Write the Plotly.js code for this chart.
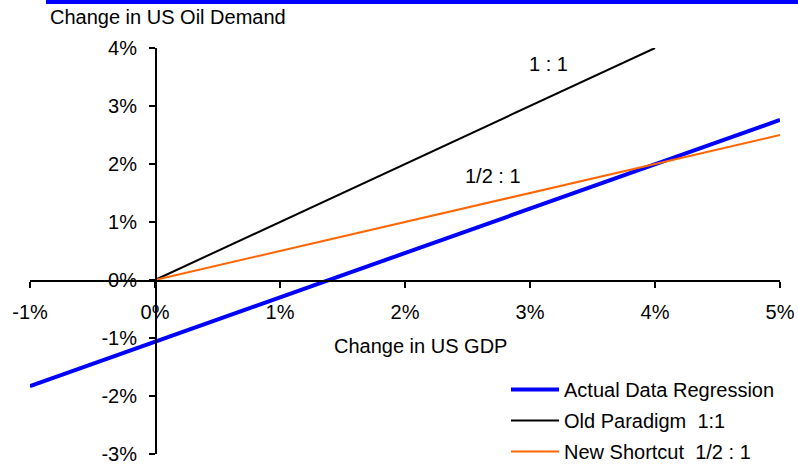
<!DOCTYPE html>
<html>
<head>
<meta charset="utf-8">
<script src="https://cdn.plot.ly/plotly-3.0.1.min.js"></script>
<style>html,body{margin:0;padding:0;background:#fff;}#chart{width:798px;height:466px;}</style>
</head>
<body>
<div id="chart"></div>
<script>
// Data (percent)
const seriesNames = ["Actual Data Regression", "Old Paradigm  1:1", "New Shortcut  1/2 : 1"];
const regressionX = [-1, 5];
const regressionY = [-1.83, 2.76];
const oldParadigmX = [0, 4];
const oldParadigmY = [0, 4];
const newShortcutX = [0, 5];
const newShortcutY = [0, 2.5];
const xTickVals = [-1, 0, 1, 2, 3, 4, 5];
const xTickText = ["-1%", "0%", "1%", "2%", "3%", "4%", "5%"];
const yTickVals = [-3, -2, -1, 0, 1, 2, 3, 4];
const yTickText = ["-3%", "-2%", "-1%", "0%", "1%", "2%", "3%", "4%"];

const font = {family: "Liberation Sans, Arial, sans-serif", size: 20, color: "#000"};

const traces = [
  {x: regressionX, y: regressionY, mode: "lines", name: seriesNames[0], line: {color: "#0000ff", width: 4}, legendgroup: "a"},
  {x: oldParadigmX, y: oldParadigmY, mode: "lines", name: seriesNames[1], line: {color: "#000000", width: 2}, legendgroup: "b"},
  {x: newShortcutX, y: newShortcutY, mode: "lines", name: seriesNames[2], line: {color: "#ff6600", width: 2}, legendgroup: "c"}
];

const layout = {
  width: 798, height: 466,
  margin: {l: 30, r: 18, t: 48, b: 12, autoexpand: false},
  paper_bgcolor: "#fff", plot_bgcolor: "#fff",
  font: font,
  showlegend: true,
  legend: {x: (506-30)/750, y: (454-370)/406, xanchor: "left", yanchor: "top", bgcolor: "rgba(0,0,0,0)", font: font, tracegroupgap: 2, itemwidth: 48},
  xaxis: {
    range: [-1, 5], anchor: "free", position: (454-280)/406,
    tickvals: xTickVals, ticktext: xTickText,
    ticks: "outside", ticklen: 6, tickwidth: 1.5, tickcolor: "#000",
    showline: true, linecolor: "#000", linewidth: 1.5,
    showgrid: false, zeroline: false, ticklabelstandoff: 7,
    tickfont: font, fixedrange: true
  },
  yaxis: {
    range: [-3, 4], anchor: "free", position: (155-30)/750,
    tickvals: yTickVals, ticktext: yTickText,
    ticks: "outside", ticklen: 6, tickwidth: 1.5, tickcolor: "#000",
    showline: true, linecolor: "#000", linewidth: 1.5,
    showgrid: false, zeroline: false, ticklabelstandoff: 8,
    tickfont: font, fixedrange: true
  },
  shapes: [
    {type: "rect", xref: "paper", yref: "paper", ysizemode: "pixel", yanchor: 1, x0: (46-30)/750, x1: 1 + 20/750, y0: 44, y1: 50, fillcolor: "#0000ff", line: {width: 0}, layer: "above"}
  ],
  annotations: [
    {text: "Change in US Oil Demand", xref: "paper", yref: "paper", x: (48-30)/750, y: 1 + (48-17)/406, xanchor: "left", yanchor: "middle", showarrow: false, font: font},
    {text: "Change in US GDP", xref: "x", yref: "y", x: 2.12, y: -1.13, xanchor: "center", yanchor: "middle", showarrow: false, font: font},
    {text: "1 : 1", xref: "x", yref: "y", x: 3.144, y: 3.72, xanchor: "center", yanchor: "middle", showarrow: false, font: font},
    {text: "1/2 : 1", xref: "x", yref: "y", x: 2.70, y: 1.79, xanchor: "center", yanchor: "middle", showarrow: false, font: font}
  ]
};

Plotly.newPlot("chart", traces, layout, {displayModeBar: false, staticPlot: true});
</script>
</body>
</html>
